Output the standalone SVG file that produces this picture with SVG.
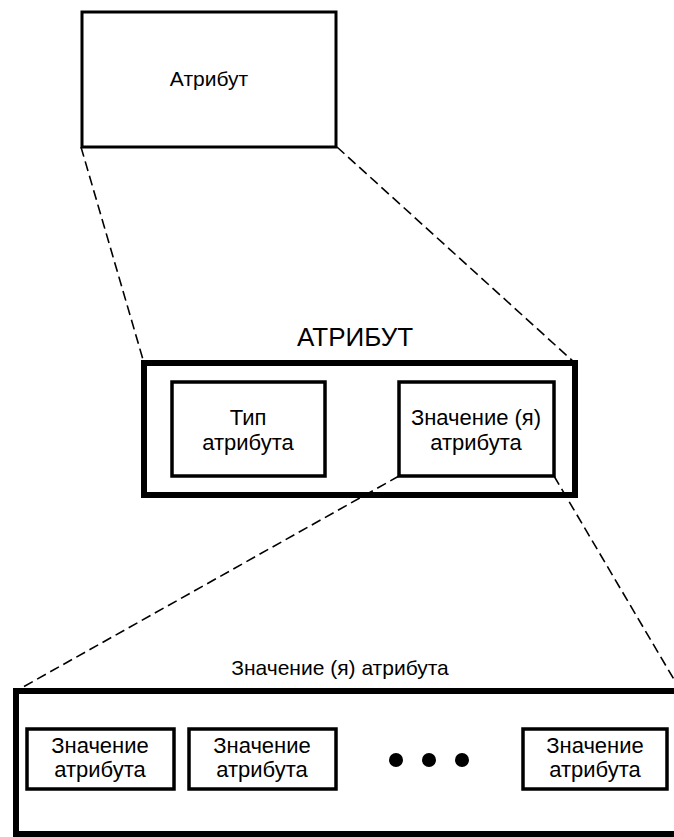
<svg xmlns="http://www.w3.org/2000/svg" width="674" height="837" viewBox="0 0 674 837">
<style>
.bg{fill:#fff}
.box{fill:#fff;stroke:#000}
.thin{stroke-width:3.5}
.thick{stroke-width:6}
.t{font-family:"Liberation Sans",Arial,sans-serif;fill:#000;text-anchor:middle}
.dash{fill:none;stroke:#000;stroke-width:1.6;stroke-dasharray:10 5}
</style>
<rect class="bg" x="0" y="0" width="674" height="837"/>
<g id="attr-top">
<rect class="box" x="82" y="12" width="254" height="135" stroke-width="3"/>
<text class="t" x="209" y="86" font-size="21">Атрибут</text>
</g>
<g id="attr-mid">
<text class="t" x="355" y="346" font-size="26">АТРИБУТ</text>
<rect class="box thick" x="144" y="363" width="431" height="132"/>
</g>
<g id="type">
<rect class="box thin" x="172" y="382" width="153" height="94"/>
<text class="t" x="248" y="425" font-size="22">Тип</text>
<text class="t" x="248" y="450" font-size="22">атрибута</text>
</g>
<g id="values">
<rect class="box thin" x="399" y="382" width="155" height="94"/>
<text class="t" x="476" y="425" font-size="22">Значение (я)</text>
<text class="t" x="476" y="450" font-size="22">атрибута</text>
</g>
<g id="values-detail">
<text class="t" x="340" y="675" font-size="21">Значение (я) атрибута</text>
<rect class="box thick" x="16" y="691" width="680" height="143"/>
</g>
<g id="value1">
<rect class="box thin" x="27" y="729" width="147" height="60"/>
<text class="t" x="100" y="753" font-size="22">Значение</text>
<text class="t" x="100" y="777" font-size="22">атрибута</text>
</g>
<g id="value2">
<rect class="box thin" x="189" y="729" width="147" height="60"/>
<text class="t" x="262" y="753" font-size="22">Значение</text>
<text class="t" x="262" y="777" font-size="22">атрибута</text>
</g>
<g id="ellipsis">
<circle cx="396" cy="760" r="7"/>
<circle cx="429" cy="760" r="7"/>
<circle cx="462" cy="760" r="7"/>
</g>
<g id="value3">
<rect class="box thin" x="523" y="729" width="144" height="60"/>
<text class="t" x="595" y="753" font-size="22">Значение</text>
<text class="t" x="595" y="777" font-size="22">атрибута</text>
</g>
<g id="connectors">
<line class="dash" x1="81" y1="147" x2="144" y2="363"/>
<line class="dash" x1="337" y1="147" x2="575" y2="363"/>
<line class="dash" x1="399" y1="476" x2="16" y2="691"/>
<line class="dash" x1="554" y1="476" x2="682" y2="693"/>
</g>
</svg>
